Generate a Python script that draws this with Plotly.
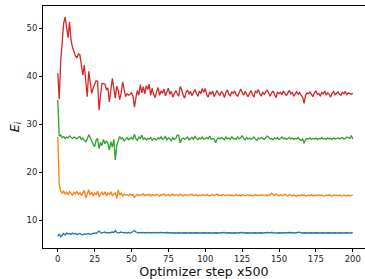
import plotly.graph_objects as go

steps = list(range(0, 201))

e_blue = [
    6.6, 7.1, 6.5, 7.0, 7.2, 6.9, 7.3, 7.1, 7.2, 7.0,
    7.3, 7.1, 7.2, 7.0, 7.1, 7.2, 7.0, 6.9, 7.1, 7.0,
    7.1, 7.2, 7.0, 7.1, 7.2, 7.3, 7.2, 7.4, 7.7, 7.4,
    7.3, 7.4, 7.5, 7.3, 7.4, 7.3, 7.4, 7.5, 7.4, 7.8,
    7.4, 7.3, 7.4, 7.5, 7.4, 7.3, 7.4, 7.3, 7.4, 7.3,
    7.4, 7.6, 7.8, 7.5, 7.4, 7.3, 7.4, 7.3, 7.4, 7.3,
    7.4, 7.3, 7.4, 7.3, 7.3, 7.4, 7.3, 7.4, 7.3, 7.4,
    7.35, 7.4, 7.3, 7.35, 7.4, 7.3, 7.35, 7.3, 7.4, 7.35,
    7.3, 7.4, 7.35, 7.3, 7.35, 7.4, 7.3, 7.35, 7.3, 7.4,
    7.35, 7.3, 7.35, 7.4, 7.3, 7.35, 7.3, 7.35, 7.4, 7.3,
    7.35, 7.3, 7.4, 7.35, 7.3, 7.35, 7.3, 7.4, 7.35, 7.3,
    7.35, 7.3, 7.35, 7.4, 7.3, 7.35, 7.3, 7.35, 7.3, 7.4,
    7.35, 7.3, 7.35, 7.3, 7.35, 7.4, 7.3, 7.35, 7.3, 7.35,
    7.3, 7.35, 7.4, 7.3, 7.35, 7.3, 7.35, 7.3, 7.35, 7.3,
    7.35, 7.3, 7.35, 7.4, 7.3, 7.45, 7.35, 7.3, 7.35, 7.3,
    7.35, 7.3, 7.35, 7.3, 7.35, 7.3, 7.35, 7.4, 7.3, 7.35,
    7.3, 7.35, 7.3, 7.35, 7.45, 7.3, 7.35, 7.3, 7.35, 7.3,
    7.35, 7.3, 7.35, 7.3, 7.35, 7.3, 7.35, 7.3, 7.35, 7.3,
    7.35, 7.3, 7.35, 7.3, 7.35, 7.3, 7.35, 7.3, 7.35, 7.3,
    7.35, 7.3, 7.35, 7.3, 7.35, 7.3, 7.35, 7.3, 7.35, 7.3,
    7.35,
]

e_orange = [
    27.3, 17.5, 16.0, 15.6, 16.0, 15.4, 15.8, 15.3, 15.9, 15.5,
    15.2, 15.8, 15.4, 16.0, 15.3, 15.7, 15.1, 15.6, 16.2, 14.6,
    15.5, 16.3, 15.2, 15.8, 15.0, 15.6, 15.3, 16.0, 14.9, 15.5,
    15.8, 15.2, 15.9, 15.0, 15.6, 15.3, 15.9, 15.1, 15.5, 15.7,
    14.5, 16.3, 15.2, 15.6, 15.0, 15.4, 15.2, 15.3, 15.1, 15.4,
    15.2, 15.3, 14.7, 15.2, 15.4, 15.1, 15.3, 15.2, 15.5, 15.1,
    15.3, 15.2, 15.4, 15.0, 15.3, 15.2, 15.1, 15.4, 15.2, 15.0,
    15.3, 15.2, 15.4, 15.1, 15.2, 15.3, 15.0, 15.2, 15.4, 15.1,
    15.3, 15.2, 15.1, 15.4, 15.2, 15.0, 15.3, 15.2, 15.1, 15.3,
    15.2, 15.4, 15.1, 15.2, 15.3, 15.0, 15.2, 15.1, 15.3, 15.2,
    15.1, 15.3, 15.2, 15.0, 15.2, 15.3, 15.1, 15.2, 15.4, 15.1,
    15.2, 15.0, 15.3, 15.2, 15.1, 15.2, 15.3, 15.1, 15.2, 15.0,
    15.2, 15.3, 15.1, 15.2, 15.0, 15.3, 15.2, 15.1, 15.2, 15.3,
    15.1, 15.2, 15.0, 15.2, 15.3, 15.1, 15.2, 15.1, 15.3, 15.2,
    15.1, 15.2, 15.0, 15.3, 15.2, 15.6, 15.3, 15.1, 15.4, 15.2,
    15.0, 15.3, 15.1, 15.2, 15.4, 15.1, 15.0, 15.3, 15.2, 15.0,
    15.2, 15.1, 14.9, 15.2, 15.0, 15.3, 15.1, 15.2, 15.0, 15.1,
    15.2, 15.1, 15.3, 15.0, 15.2, 15.1, 15.2, 15.3, 15.1, 15.2,
    15.0, 15.1, 15.2, 15.1, 15.3, 15.1, 15.0, 15.2, 15.1, 15.2,
    15.1, 15.2, 15.0, 15.1, 15.2, 15.1, 15.0, 15.2, 15.0, 15.1,
    15.2,
]

e_green = [
    35.0, 27.5, 27.7, 27.2, 27.4, 27.0, 27.3, 27.1, 27.5, 27.2,
    27.0, 27.3, 27.1, 26.9, 27.2, 27.4, 26.8, 27.1, 26.6, 26.3,
    26.9, 27.8, 27.2, 26.4, 25.8, 25.3, 26.6, 27.0, 24.9, 26.2,
    25.5, 26.8, 25.9, 26.5, 26.0, 24.6, 26.3, 25.2, 26.8, 22.5,
    25.6, 26.5, 27.4, 26.9, 27.1, 26.5, 26.9, 27.2, 26.7, 27.0,
    27.2, 26.8, 27.9, 26.9, 26.6, 27.3, 27.0, 27.7, 26.8, 27.1,
    26.7, 27.0, 26.9, 27.2, 26.6, 27.0, 26.8, 26.7, 27.1, 26.9,
    27.3, 26.8, 27.0, 27.4, 26.7, 27.1, 26.9, 26.5, 27.2, 26.8,
    27.0, 27.7, 27.6, 26.1, 26.9, 27.1, 26.8, 27.0, 27.3, 26.7,
    26.9, 27.2, 26.8, 27.4, 27.0, 26.7, 27.1, 26.9, 27.3, 26.8,
    27.0, 27.2, 26.9, 27.5, 26.8, 27.0, 26.9, 26.1, 26.8, 27.1,
    26.9, 27.2, 27.0, 26.7, 27.3, 26.9, 27.1, 26.8, 27.4, 26.9,
    27.0, 26.8, 27.3, 26.9, 27.1, 27.6, 27.0, 26.7, 27.2, 26.9,
    27.1, 26.8, 27.0, 27.3, 26.9, 26.6, 27.1, 26.9, 27.2, 27.0,
    26.8, 27.1, 27.5, 27.3, 26.9, 27.0, 26.7, 27.1, 26.9, 27.2,
    26.8, 27.0, 27.3, 26.9, 27.1, 26.8, 27.0, 27.2, 26.9, 27.1,
    26.8, 27.0, 26.9, 27.2, 26.8, 26.6, 26.9, 26.0, 26.8, 27.0,
    26.9, 27.1, 26.8, 27.0, 26.9, 27.1, 26.8, 27.0, 26.9, 27.2,
    26.9, 27.0, 26.8, 27.1, 26.9, 27.0, 26.8, 27.1, 26.9, 27.0,
    27.1, 26.9, 27.0, 27.2, 26.9, 27.0, 27.3, 27.1, 27.0, 27.6,
    26.9,
]

e_red = [
    40.6, 35.2, 43.0, 47.5, 51.0, 52.3, 49.5, 48.0, 51.3, 47.5,
    46.0, 45.0, 44.2, 43.8, 44.6, 44.4, 42.0, 40.2, 42.3, 38.5,
    35.7, 41.0, 38.0, 36.4, 37.5, 38.3, 39.0, 38.9, 32.9, 36.0,
    38.5, 38.4, 38.3, 37.2, 37.5, 34.6, 37.0, 39.5, 37.5, 35.4,
    37.9, 37.0, 35.1, 36.5, 38.8, 37.5, 35.7, 36.3, 36.0, 36.2,
    36.5, 35.8, 33.5, 35.5, 37.0, 36.0, 38.2, 36.5, 37.8, 36.3,
    38.0, 37.2, 38.3, 36.0, 37.5, 36.2, 35.5, 36.8, 37.6, 36.0,
    36.9, 36.4, 37.3, 35.9, 36.7, 37.5, 36.2, 36.8, 35.6, 36.5,
    37.0, 36.3, 35.8, 37.8, 37.2, 36.0, 35.4, 36.6, 37.1, 36.2,
    36.8, 35.9, 36.5, 37.2, 36.4, 35.8, 36.9, 36.3, 37.4, 36.6,
    37.4, 36.1, 35.6, 36.7, 36.2, 36.9, 35.7, 36.5, 37.0, 36.3,
    36.0, 36.8, 36.4, 35.5, 36.6, 37.1, 36.2, 35.9, 36.7, 36.4,
    36.9, 36.1, 35.8, 36.5, 37.3, 36.6, 36.0, 36.8, 36.3, 35.7,
    36.4, 37.0, 36.2, 35.6, 36.9, 36.5, 37.2, 36.3, 35.9, 36.6,
    36.2, 36.8, 37.1, 36.4, 35.8, 36.5, 36.9, 36.1, 35.5, 36.7,
    36.3, 36.6, 36.1, 36.9, 36.4, 35.9, 36.5, 37.0, 36.3, 36.6,
    35.8, 36.4, 36.8, 36.2, 36.6, 36.0, 35.6, 34.3, 36.0, 36.5,
    36.3, 36.7, 36.1, 35.7, 36.5, 36.9, 36.2, 36.4, 35.8, 36.6,
    36.3, 36.9, 36.0, 36.5, 36.2, 35.6, 36.4, 36.8, 36.1, 36.5,
    36.7, 36.2, 36.0, 36.6, 36.3, 36.8, 36.1, 36.5, 36.4, 36.2,
    36.4,
]

x_ticks = [0, 25, 50, 75, 100, 125, 150, 175, 200]
y_ticks = [10, 20, 30, 40, 50]

series = [
    (e_blue, "#1f77b4"),
    (e_orange, "#ff7f0e"),
    (e_green, "#2ca02c"),
    (e_red, "#d62728"),
]

fig = go.Figure()
for vals, col in series:
    fig.add_trace(go.Scatter(x=steps, y=vals, mode="lines",
                             line=dict(color=col, width=1.3),
                             showlegend=False, hoverinfo="skip"))

fnt = "DejaVu Sans, Arial, sans-serif"
fig.update_layout(
    width=365, height=279,
    margin=dict(l=43, r=0, t=6, b=31),
    paper_bgcolor="white", plot_bgcolor="white",
    font=dict(family=fnt, size=8.5, color="#222222"),
    xaxis=dict(range=[-10, 208.3], tickvals=x_ticks, automargin=False,
               showgrid=False, zeroline=False,
               showline=True, linecolor="black", linewidth=0.9, mirror=True,
               ticks="outside", ticklen=3, tickwidth=0.9, tickcolor="black",
               title=dict(text="Optimizer step x500", font=dict(size=12.7, color="#111111"), standoff=2)),
    yaxis=dict(range=[4.17, 54.6], tickvals=y_ticks, automargin=False,
               showgrid=False, zeroline=False,
               showline=True, linecolor="black", linewidth=0.9, mirror=False,
               ticks="outside", ticklen=3, tickwidth=0.9, tickcolor="black",
               title=dict(text="<i>E<sub>i</sub></i>", font=dict(size=12.7, color="#111111"), standoff=4)),
)

fig.write_html("out.html", config={"displayModeBar": False},
               post_script="document.body.style.margin='0';document.body.style.overflow='hidden';")
